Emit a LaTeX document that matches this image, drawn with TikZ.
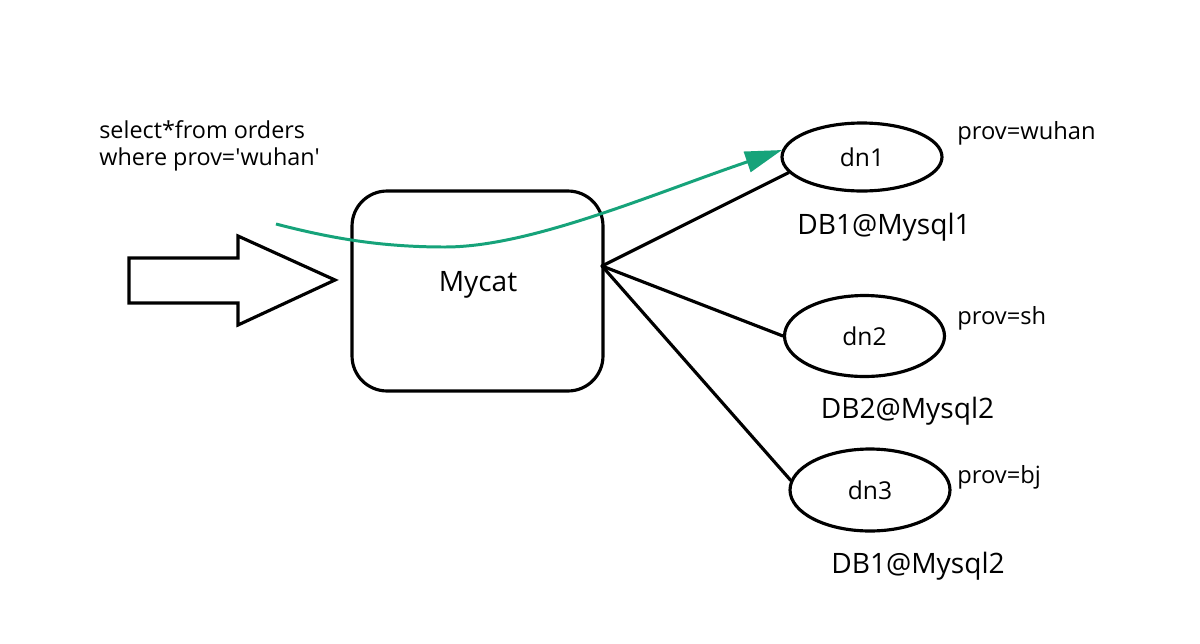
\documentclass[tikz,border=0pt]{standalone}
\usepackage{fontspec}
\setmainfont{Open Sans}
\usetikzlibrary{shapes.geometric,arrows.meta}
\definecolor{flowgreen}{RGB}{22,163,122}
\tikzset{
  stroke/.style={line width=1.8pt, black},
  mycatbox/.style={stroke, draw, rounded corners=0.7cm, minimum width=5.02cm, minimum height=4cm, inner sep=0pt},
  dnnode/.style={stroke, draw, ellipse, minimum width=3.2cm, inner sep=0pt, font=\fontsize{14}{16}\selectfont},
  provtext/.style={anchor=base west, inner sep=0pt, font=\fontsize{13.5}{15}\selectfont},
  dbtext/.style={anchor=base, inner sep=0pt, font=\fontsize{16}{18}\selectfont},
  querytext/.style={anchor=base west, inner sep=0pt, font=\fontsize{13.3}{15}\selectfont},
  link/.style={stroke, line cap=round},
  flow/.style={line width=1.7pt, flowgreen, -{Triangle[length=21pt, width=12pt]}},
}
\begin{document}
\begin{tikzpicture}[x=0.02cm, y=-0.02cm]
\useasboundingbox[fill=white] (0,0) rectangle (1200,643);

% query text
\node[querytext] (q1) at (99,138) {select*from orders};
\node[querytext] (q2) at (99,165) {where prov=\textquotesingle wuhan\textquotesingle};

% big input arrow
\draw[stroke, line join=miter] (129,258) -- (238,258) -- (238,236) -- (335,280) -- (238,325) -- (238,303) -- (129,303) -- cycle;

% Mycat box
\node[mycatbox] (mycat) at (477.5,291) {};
\node[anchor=base, inner sep=0pt, font=\fontsize{16}{18}\selectfont] (mycatlabel) at (478,291) {Mycat};

% data nodes
\node[dnnode, minimum height=1.36cm] (dn1) at (862,157) {dn1};
\node[dnnode, minimum height=1.62cm] (dn2) at (864.5,336) {dn2};
\node[dnnode, minimum height=1.64cm] (dn3) at (870,490) {dn3};

% labels
\node[provtext] (p1) at (957,139) {prov=wuhan};
\node[provtext] (p2) at (957,324) {prov=sh};
\node[provtext] (p3) at (957,483) {prov=bj};
\node[dbtext] (db1) at (884,234) {DB1@Mysql1};
\node[dbtext] (db2) at (907.5,418) {DB2@Mysql2};
\node[dbtext] (db3) at (918,573) {DB1@Mysql2};

% links
\coordinate (hub) at (602,266);
\draw[link] (hub) -- (dn1.192);
\draw[link] (hub) -- (dn2.west);
\draw[link] (hub) -- (dn3.173);

% green flow
\coordinate (flowstart) at (276,224);
\coordinate (flowmid) at (445,247);
\draw[flow] (flowstart) .. controls (330,238) and (380,247) .. (flowmid) .. controls (530,247) and (650,195) .. (dn1.175);
\end{tikzpicture}
\end{document}
